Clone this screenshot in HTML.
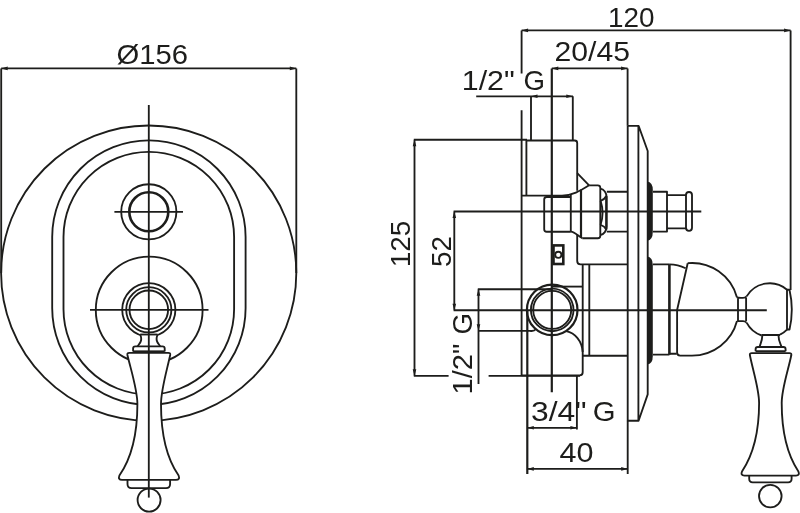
<!DOCTYPE html>
<html>
<head>
<meta charset="utf-8">
<title>Drawing</title>
<style>
html,body{margin:0;padding:0;background:#fff;}
body{width:800px;height:513px;overflow:hidden;font-family:"Liberation Sans",sans-serif;}
svg{display:block;will-change:transform;}
.l{fill:none;stroke:#1d1d1b;stroke-width:1.85;stroke-linecap:butt;stroke-linejoin:round;}
.t{fill:none;stroke:#1d1d1b;stroke-width:2.6;}
.m{fill:none;stroke:#1d1d1b;stroke-width:2.2;stroke-linejoin:round;}
.f{fill:#1d1d1b;stroke:none;}
text{font-family:"Liberation Sans",sans-serif;font-size:28px;fill:#1d1d1b;}
</style>
</head>
<body>
<svg width="800" height="513" viewBox="0 0 800 513">
<rect x="0" y="0" width="800" height="513" fill="#fff"/>

<!-- ============ FRONT VIEW ============ -->
<g id="front">
  <!-- dimension 156 -->
  <path class="l" d="M1.2,68.4H296.3 M1.2,68.4V273 M296.3,68.4V273"/>
  <path class="f" d="M1.2,68.4l6.5,-1.8v3.6z M296.3,68.4l-6.5,-1.8v3.6z"/>
  <text x="116.5" y="64.2" textLength="71.5" lengthAdjust="spacingAndGlyphs">Ø156</text>
  <!-- outer circle -->
  <circle class="l" cx="148.7" cy="273.1" r="147.6"/>
  <!-- stadiums -->
  <path class="l" d="M52.2,237.1A96.7,96.7 0 0 1 245.6,237.1V308.3A96.7,96.7 0 0 1 52.2,308.3Z"/>
  <path class="l" d="M63.5,237.1A85.3,85.3 0 0 1 234.1,237.1V309.2A85.3,85.3 0 0 1 63.5,309.2Z"/>
  <!-- centre line -->
  <path class="l" d="M148.8,105V340"/>
  <!-- upper button -->
  <circle class="l" cx="148.8" cy="211.8" r="27.6"/>
  <circle class="t" cx="148.8" cy="211.8" r="19.5"/>
  <path class="l" d="M114.4,211.8H183"/>
  <!-- lower circle + button -->
  <circle class="l" cx="149.2" cy="310" r="53.4"/>
  <circle class="l" cx="148.8" cy="309.8" r="26.6"/>
  <circle class="l" cx="148.8" cy="309.8" r="22.6"/>
  <circle class="l" cx="148.8" cy="309.8" r="19.3"/>
  <path class="l" d="M90,309.8H208.5"/>
  <g id="handleFront">
    <!-- white masks so ovals/rings are hidden behind the handle -->
    <path fill="#fff" stroke="none" d="M129.3,352.8H168.3Q170.6,352.8 170.2,355C166.5,372 161,390 161,404C161,428 166,454 178.6,475.5Q180.3,479.8 176,479.8H122Q117.7,479.8 119.4,475.5C132,454 137.4,428 137.4,404C137.4,390 131.5,372 127.4,355Q127,352.8 129.3,352.8Z"/>
    <path fill="#fff" stroke="none" d="M140.2,334.5H157.6L160.2,346.4H164.7V352.8H133.1V346.4H137.6Z"/>
    <!-- neck -->
    <path class="l" d="M140.2,334.5C141.6,338 141.6,340 140.5,342C139.5,344 138.2,345 137.6,346.4"/>
    <path class="l" d="M157.6,334.5C156.2,338 156.2,340 157.3,342C158.3,344 159.6,345 160.2,346.4"/>
    <path class="l" d="M140.2,334.5H157.6"/>
    <!-- collar -->
    <path class="l" d="M133.1,351.4V348.6Q133.1,346.4 135.3,346.4H162.5Q164.7,346.4 164.7,348.6V351.4"/>
    <path class="l" d="M133.1,351.3H164.7"/>
    <!-- body -->
    <path class="l" d="M129.3,352.8H168.3Q170.6,352.8 170.2,355C166.5,372 161,390 161,404C161,428 165,456 178.6,475.5Q180.3,479.8 176,479.8H122Q117.7,479.8 119.4,475.5C133,456 137.4,428 137.4,404C137.4,390 131.5,372 127.4,355Q127,352.8 129.3,352.8Z"/>
    <!-- step -->
    <path class="l" d="M127.5,479.8V484Q127.5,488.1 131.6,488.1H166Q170.1,488.1 170.1,484V479.8"/>
    <!-- ball -->
    <circle class="l" cx="149.1" cy="500.1" r="11.5"/>
    <path class="l" d="M148.8,334V497.6"/>
  </g>
</g>

<!-- ============ SIDE VIEW ============ -->
<g id="side">
  <!-- dim 120 -->
  <path class="l" d="M521.6,30.4H790.6 M521.6,30.4V73.5 M521.6,110.3V375.8 M790.6,30.4V290"/>
  <path class="f" d="M521.6,30.4l6.5,-1.8v3.6z M790.6,30.4l-6.5,-1.8v3.6z"/>
  <text x="608" y="26.8" textLength="46.5" lengthAdjust="spacingAndGlyphs">120</text>
  <!-- dim 20/45 -->
  <path class="l" d="M551.8,68.4H627.6 M627.6,68.4V125.8"/>
  <path class="m" d="M551.8,68.4V392.2"/>
  <path class="f" d="M551.8,68.4l6.5,-1.8v3.6z M627.6,68.4l-6.5,-1.8v3.6z"/>
  <text x="554.5" y="61" textLength="75.5" lengthAdjust="spacingAndGlyphs">20/45</text>
  <!-- dim 1/2" G top -->
  <path class="l" d="M476.2,96.3H573 M531,96.3V140 M572.8,96.3V140"/>
  <path class="f" d="M531,96.3l6.5,-1.8v3.6z M572.8,96.3l-6.5,-1.8v3.6z"/>
  <text x="461.8" y="89.8" textLength="53" lengthAdjust="spacingAndGlyphs">1/2"</text><text x="523.6" y="89.8" font-size="30" textLength="21.5" lengthAdjust="spacingAndGlyphs">G</text>
  <!-- dim 125 -->
  <path class="l" d="M414.5,139.7V375.8 M413.8,139.7H527 M413.8,375.8H448.6 M488.6,375.8H580"/>
  <path class="f" d="M414.5,139.7l-1.8,6.5h3.6z M414.5,375.8l-1.8,-6.5h3.6z"/>
  <text transform="translate(410.3,267.3) rotate(-90)" x="0" y="0" textLength="46.5" lengthAdjust="spacingAndGlyphs">125</text>
  <!-- dim 52 -->
  <path class="l" d="M454.3,211.5V310.2 M453.6,211.5H701.3 M453.6,310.2H766.8"/>
  <path class="f" d="M454.3,211.5l-1.8,6.5h3.6z M454.3,310.2l-1.8,-6.5h3.6z"/>
  <text transform="translate(451.3,267) rotate(-90)" x="0" y="0" textLength="31" lengthAdjust="spacingAndGlyphs">52</text>
  <!-- dim 1/2" G vertical -->
  <path class="l" d="M478.5,289.2V384 M477.8,289.2H551.8 M477.8,330.8H530Q534,331.5 536,329"/>
  <path class="f" d="M478.5,289.2l-1.8,6.5h3.6z M478.5,330.8l-1.8,-6.5h3.6z"/>
  <g transform="translate(471.9,394.5) rotate(-90)"><text x="0" y="0" textLength="51" lengthAdjust="spacingAndGlyphs">1/2"</text><text x="60" y="0" font-size="30" textLength="21.5" lengthAdjust="spacingAndGlyphs">G</text></g>
  <!-- dim 3/4" G -->
  <path class="l" d="M527.3,427.8H576.9 M576.9,375V429.6"/>
  <path class="m" d="M527.3,311V474"/>
  <path class="f" d="M527.3,427.8l6.5,-1.8v3.6z M576.9,427.8l-6.5,-1.8v3.6z"/>
  <text x="531" y="421.1" textLength="55.5" lengthAdjust="spacingAndGlyphs">3/4"</text><text x="592.8" y="421.1" font-size="30" textLength="22.8" lengthAdjust="spacingAndGlyphs">G</text>
  <!-- dim 40 -->
  <path class="l" d="M527.3,468.9H627.7 M627.7,420.7V474"/>
  <path class="f" d="M527.3,468.9l6.5,-1.8v3.6z M627.7,468.9l-6.5,-1.8v3.6z"/>
  <text x="559.6" y="461.6" textLength="34" lengthAdjust="spacingAndGlyphs">40</text>

  <!-- upper elbow box -->
  <path class="l" d="M526.4,195.6V140.5H574.7Q577.2,140.5 577.2,143V190.7"/>
  <path class="l" d="M521.6,195.6H562C572,195.6 580,191 589.1,185.3"/>
  <path class="l" d="M577.2,173.2L589.1,185.3"/>
  <!-- nut -->
  <path class="l" d="M589.1,185.3H597.8Q600.3,185.3 600.3,187.8V235.7Q600.3,238.2 597.8,238.2H582.3"/>
  <path class="m" d="M581,189.5V237.5"/>
  <path class="l" d="M570.8,231.7C575,232 578,236 582.3,238.2"/>
  <!-- valve body left -->
  <path class="l" d="M570.8,197H546.7Q544.2,197 544.2,199.5V229.2Q544.2,231.7 546.7,231.7H570.8 M570.8,194.5V231.7"/>
  <!-- hex -->
  <path class="l" d="M600.3,188.6C604,189 606.6,193 606.6,197V226.5C606.6,230.5 604,234.6 600.3,235"/>
  <path class="l" d="M600.6,200.9Q604.5,199.5 606.3,196 M600.6,200.9Q604.5,213 600.6,224.8 M600.6,224.8Q604.5,226 606.3,229.5"/>
  <path class="m" d="M606.3,196V229.5"/>
  <!-- stem left of plate -->
  <path class="l" d="M606.8,191.7H627.7 M606.8,231.6H627.7"/>
  <!-- small square -->
  <rect class="t" x="553.5" y="245.4" width="9.8" height="18.6"/>
  <circle class="l" cx="558.3" cy="254.8" r="3.1"/>
  <!-- connection between bodies -->
  <path class="l" d="M577.2,234.5V261Q577.2,264.3 580.5,264.3H627.7"/>
  <path class="l" d="M582.7,264.3V372.3Q582.7,375.3 579.7,375.3H521.6"/>
  <path class="l" d="M589.3,264.3V355.7 M582.7,355.7H627.7"/>
  <path class="l" d="M552,286.6H582.7"/>
  <!-- inlet circle -->
  <circle class="m" cx="552.2" cy="309.9" r="25.3"/>
  <circle class="l" cx="552.2" cy="309.9" r="21.3"/>
  <circle class="l" cx="552.2" cy="309.9" r="19"/>
  <path class="l" d="M566.3,331.2C575,333 582,341 582.7,352"/>

  <!-- plate -->
  <path class="l" d="M627.7,125.8V420.7H638.6L647.7,394.4V151L638.6,125.8H627.7 M638.4,125.8V420.7"/>
  <!-- gaskets -->
  <path class="f" d="M647.2,181.4Q652.8,182 652.8,190V232Q652.8,240 647.2,240.7Z"/>
  <path class="f" d="M647.2,256.5Q652.8,257 652.8,265V356Q652.8,364 647.2,364.5Z"/>
  <!-- upper stem right -->
  <path class="l" d="M653,191.7H667V231.6H653 M667,195.1H686 M667,228.3H686"/>
  <rect class="l" x="686" y="192" width="6" height="38.8" rx="3" ry="3"/>
  <!-- lever base -->
  <path class="l" d="M653,264.3H669.4 M653,354.6H669.4 M669.4,353.7H676.7"/>
  <path class="t" d="M669.4,264.3V354.6"/>
  <path class="l" d="M669.4,264.3Q678,264.3 685.6,268.3"/>
  <path class="l" d="M687.7,263.2L677.1,310V352.6Q677.1,355.6 680.1,355.6H692A46.5,46.4 0 0 0 737,320.9"/>
  <path class="l" d="M687.7,263.2A46.5,46.4 0 0 1 737,297.5"/>
  <!-- neck -->
  <path class="l" d="M737,297.5Q738,297.8 741,297.8H743Q745,297.8 746.6,296.4 M737,320.9Q738,321.1 741,321.1H743Q745,321.1 746.6,322.6 M738,297.8V321.1 M746.1,297.8V321.1"/>
  <!-- ball -->
  <path class="l" d="M746.6,296.4A26.8,26.8 0 0 1 787,289.7 M787,329.6A26.8,26.8 0 0 1 780,334.7 M761.7,335.5A26.8,26.8 0 0 1 746.6,322.6"/>
  <path class="l" d="M787,289.7H789.5Q791.8,300 791.8,309.5Q791.8,320 789.5,329.5H787Z"/>
  <!-- side handle -->
  <path class="l" d="M761.7,335H780 M762.3,335C762.5,340 760.5,343.5 759.7,346.5 M778.5,335C778.3,340 780.3,343.5 781.4,346.5"/>
  <path class="l" d="M755.6,351.2V349.2Q755.6,347 757.8,347H783.4Q785.6,347 785.6,349.2V351.2 M755.6,351.2H785.6"/>
  <path class="l" d="M751.8,353.1H789.4Q791.7,353.1 791.3,355.3C788,371 781.7,389 781.7,403C781.7,426 785.5,452 798.4,471.5Q800,475.6 796,475.6H744.4Q740.4,475.6 742,471.5C755,452 759.1,426 759.1,403C759.1,389 753,371 749.9,355.3Q749.5,353.1 751.8,353.1Z"/>
  <path class="l" d="M749.2,475.6V478.8Q749.2,482.3 752.7,482.3H788.1Q791.6,482.3 791.6,478.8V475.6"/>
  <circle class="l" cx="770.3" cy="496.1" r="11.3"/>
</g>
</svg>
</body>
</html>
